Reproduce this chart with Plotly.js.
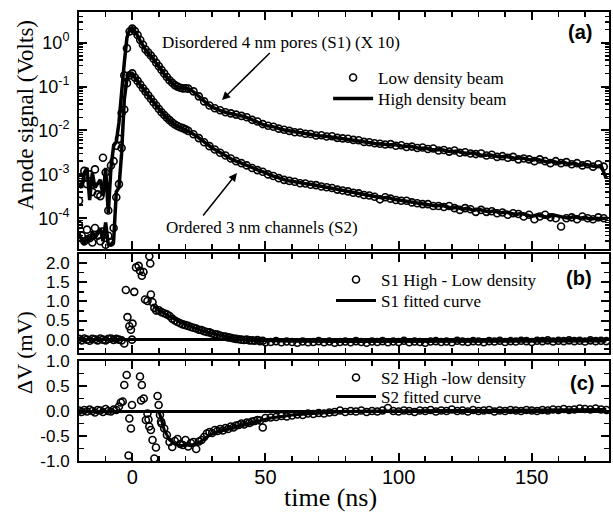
<!DOCTYPE html>
<html>
<head>
<meta charset="utf-8">
<script src="https://cdn.plot.ly/plotly-3.0.1.min.js"></script>
<style>html,body{margin:0;padding:0;background:#fff;}#chart{width:613px;height:514px;}</style>
</head>
<body>
<div id="chart"></div>
<script>
// ---------- Panel (a): anode signal (Volts) ----------
const tA = [-20,-19,-18,-17,-16,-15,-14,-13,-12,-11,-10,-9,-8,-7,-6,-5,-4,-3,-2,-1,0,
  1,2,3,4,5,6,7,8,9,10,11,12,13,14,15,16,17,18,19,20,
  22,24,26,28,30,32,34,36,38,40,42,44,46,48,50,52,54,56,58,60,62,64,66,68,70,
  72,74,76,78,80,82,84,86,88,90,92,94,96,98,100,102,104,106,108,110,112,114,116,118,120,
  122,124,126,128,130,132,134,136,138,140,142,144,146,148,150,152,154,156,158,160,
  162,164,166,168,170,172,174,176,178];
const s1High = [6e-4,5e-4,1.1e-3,1.4e-3,2.6e-4,1.1e-3,5e-4,6e-4,7.5e-4,3.2e-4,1.4e-3,1.3e-4,1.4e-3,4.5e-3,5.5e-3,1.5e-2,8e-2,0.35,1.3,2.0,2.2,
  1.8,1.45,1.1,0.85,0.68,0.58,0.5,0.42,0.34,0.28,0.23,0.19,0.16,0.14,0.12,0.105,0.098,0.093,0.092,0.093,
  0.085,0.068,0.052,0.041,0.034,0.030,0.027,0.025,0.024,0.022,0.021,0.0185,0.0165,0.0148,0.0130,0.0124,0.0118,0.0105,0.0100,0.0095,0.0089,0.0087,0.0082,0.0080,0.0076,
  0.0075,0.0072,0.0071,0.0067,0.0064,0.0063,0.0060,0.0057,0.0056,0.0052,0.0049,0.0050,0.0047,0.0048,0.0046,0.0043,0.0044,0.0041,0.0039,0.0040,0.0037,0.0036,0.0037,0.0034,0.0033,
  0.0034,0.0031,0.0030,0.0031,0.0028,0.0027,0.0028,0.0026,0.0025,0.0026,0.0024,0.0023,0.0024,0.0022,0.0021,0.0022,0.0020,0.0019,0.0020,0.0018,
  0.0019,0.0017,0.0018,0.0016,0.0017,0.0016,0.0015,0.0016,0.0008];
const s2High = [4.5e-5,3.2e-5,2.5e-5,4e-5,3e-5,5e-5,3.5e-5,4.5e-5,6e-5,3e-5,8e-5,2.5e-5,2.5e-5,3e-5,4e-4,5e-4,3e-3,5e-2,0.15,0.19,0.2,
  0.16,0.13,0.11,0.09,0.075,0.062,0.052,0.043,0.036,0.030,0.026,0.022,0.019,0.017,0.0150,0.0135,0.0125,0.0118,0.0112,0.0105,
  0.0090,0.0075,0.0060,0.0048,0.0040,0.0034,0.0029,0.0025,0.0021,0.0019,0.0017,0.0015,0.0013,0.0012,0.0011,0.00095,0.00088,0.00078,0.00072,0.00070,0.00066,0.00062,0.00060,0.00058,0.00055,
  0.00052,0.00050,0.00047,0.00044,0.00042,0.00040,0.00038,0.00035,0.00034,0.00032,0.00031,0.00029,0.00030,0.00027,0.00026,0.00025,0.00024,0.00023,0.00022,0.00021,0.00020,0.00019,0.00020,0.00018,0.00017,
  0.00018,0.00016,0.00017,0.00015,0.00016,0.00015,0.00014,0.00015,0.00013,0.00014,0.00013,0.00012,0.00013,0.00012,0.00011,0.00012,0.00011,0.000105,0.00012,0.00011,
  0.000105,0.0001,0.00011,0.0001,0.000105,0.000095,0.0001,0.000098,0.0001];

const tLow = [-20,-19,-18,-17,-16,-15,-14,-13,-12,-11,-10,-9,-8,-7,-6,-5,-4,-3,-2,-1,0,
  1,2,3,4,5,6,7,8,9,10,11,12,13,14,15,16,17,18,19,20,
  21,23,25,27,29,31,33,35,37,39,41,43,45,47,49,51,53,55,57,59,61,63,65,67,69,
  71,73,75,77,79,81,83,85,87,89,91,93,95,97,99,101,103,105,107,109,111,113,115,117,119,
  121,123,125,127,129,131,133,135,137,139,141,143,145,147,149,151,153,155,157,159,
  161,163,165,167,169,171,173,175,177];
const s1Low = [2.5e-4,8e-4,1.2e-3,6e-4,1.0e-3,4e-4,1.3e-3,3.5e-4,3.2e-4,2.4e-3,1.1e-3,1.5e-4,1.6e-3,2e-3,4.5e-3,6.5e-3,2.5e-2,0.18,0.75,1.8,2.1,
  1.85,1.5,1.15,0.9,0.7,0.6,0.51,0.43,0.35,0.29,0.24,0.2,0.165,0.14,0.122,0.108,0.1,0.094,0.091,0.092,
  0.090,0.078,0.060,0.046,0.037,0.032,0.029,0.026,0.0245,0.023,0.0215,0.020,0.0175,0.016,0.014,0.0128,0.0122,0.0110,0.0104,0.0098,0.0091,0.0090,0.0084,0.0083,0.0077,
  0.0078,0.0073,0.0074,0.0068,0.0066,0.0065,0.0061,0.0060,0.0055,0.0054,0.0051,0.0050,0.0048,0.0049,0.0045,0.0046,0.0042,0.0043,0.0040,0.0041,0.0038,0.0039,0.0035,0.0036,0.0033,
  0.0035,0.0031,0.0032,0.0030,0.0029,0.0030,0.0027,0.0028,0.0025,0.0026,0.0024,0.0025,0.0022,0.0023,0.0022,0.0020,0.0022,0.0020,0.0018,0.0020,
  0.0018,0.0019,0.0017,0.0018,0.0016,0.0017,0.0015,0.0017,0.0015];
const s2Low = [7e-5,4e-5,3e-5,5.5e-5,3.5e-5,2.8e-5,6e-5,4e-5,3e-5,5e-5,2.5e-5,4e-5,2.8e-5,6e-5,3e-4,6e-4,4e-3,3e-2,0.12,0.18,0.2,
  0.16,0.135,0.112,0.092,0.077,0.063,0.053,0.044,0.037,0.031,0.026,0.0225,0.0195,0.0172,0.0152,0.0137,0.0127,0.0119,0.0113,0.0106,
  0.0098,0.0082,0.0067,0.0054,0.0044,0.0037,0.0031,0.0027,0.0023,0.0020,0.0018,0.0016,0.0014,0.00125,0.00115,0.00100,0.00092,0.00082,0.00075,0.00071,0.00068,0.00063,0.00062,0.00058,0.00057,
  0.00053,0.00051,0.00049,0.00045,0.00043,0.00041,0.00038,0.00037,0.00034,0.00033,0.00031,0.00027,0.00030,0.00028,0.00026,0.00025,0.00025,0.00023,0.00022,0.00021,0.00021,0.00019,0.00019,0.00018,0.00019,
  0.00017,0.000155,0.00017,0.00016,0.00014,0.000155,0.00014,0.000145,0.00013,0.000135,0.00012,0.00013,0.000125,0.00011,0.00012,0.000095,0.00011,0.00012,0.000105,0.0001,
  0.000065,0.0001,0.000105,0.000095,0.00011,0.0001,0.000095,0.000105,0.0001];

// ---------- Panel (b): S1 difference (mV) ----------
const tB = [-20,-19,-18,-17,-16,-15,-14,-13,-12,-11,-10,-9,-8,-7,-6,-5,-4,
  -3,-2.4,-1.8,-1.1,-0.5,-0.1,0.1,0.75,1.4,2.4,2.9,3.6,4.2,4.8,5.7,6.4,6.75,7,7.6,8.3,
  9,10,11,12,13,14,15,16,17,18,19,20,21,22,23,24,25,26,27,28,29,30,31,32,33,34,35,36,37,38,39,40,41,42,43,44,45,46,47,48,49,50,
  52,54,56,58,60,62,64,66,68,70,72,74,76,78,80,82,84,86,88,90,92,94,96,98,100,102,104,106,108,110,112,114,
  116,118,120,122,124,126,128,130,132,134,136,138,140,142,144,146,148,150,152,154,156,158,160,162,164,166,168,170,172,174,176,178];
const bDiff = [0.02,-0.02,0.03,0.00,-0.03,0.02,0.01,-0.02,0.03,0.00,-0.02,0.02,0.03,-0.01,0.02,0.00,-0.02,
  -0.10,1.30,0.59,0.35,0.26,0.00,0.42,1.25,1.89,1.93,1.80,1.67,1.77,1.05,1.01,2.18,1.99,1.18,0.98,0.83,
  0.76,0.77,0.72,0.69,0.66,0.62,0.55,0.50,0.46,0.43,0.40,0.38,0.36,0.33,0.31,0.29,0.26,0.25,0.22,0.20,0.19,0.16,0.14,0.13,0.11,0.09,0.08,0.06,0.05,0.03,0.02,0.01,0.00,-0.01,0.00,-0.02,-0.02,-0.03,-0.01,-0.04,-0.03,-0.07,
  -0.06,-0.04,-0.07,-0.05,-0.06,-0.08,-0.05,-0.07,-0.06,-0.04,-0.07,-0.05,-0.08,-0.06,-0.05,-0.07,-0.04,-0.06,-0.08,-0.05,-0.06,-0.04,-0.07,-0.05,-0.06,-0.03,-0.07,-0.05,-0.06,-0.08,-0.05,-0.04,
  -0.06,-0.05,-0.07,-0.03,-0.05,-0.06,-0.04,-0.05,-0.07,-0.04,-0.05,-0.03,-0.06,-0.04,-0.05,-0.03,-0.04,-0.06,-0.03,-0.04,-0.02,-0.05,-0.03,-0.04,-0.02,-0.04,-0.03,-0.05,-0.02,-0.04,-0.03,-0.04];
const tBFit = [8,10,12,14,16,18,20,22,24,26,28,30,32,34,36,38,40,44,48,52,60,80,100,120,140,160,178];
const bFit = [0.88,0.78,0.69,0.61,0.53,0.46,0.40,0.34,0.29,0.24,0.20,0.16,0.13,0.10,0.07,0.05,0.03,0.0,-0.02,-0.03,-0.045,-0.05,-0.05,-0.05,-0.045,-0.04,-0.035];

// ---------- Panel (c): S2 difference (mV) ----------
const tC = [-20,-19,-18,-17,-16,-15,-14,-13,-12,-11,-10,-9,-8,-7,-6,-5,
  -4.3,-3.6,-3.0,-2.1,-1.4,-1.1,-0.5,-0.1,2.9,3.3,3.6,4.3,5.1,5.7,6.1,6.4,7.0,7.6,8.3,8.9,9.5,9.9,10.4,10.8,
  11,12,13,14,15,16,17,18,19,20,21,22,23,24,25,26,27,28,29,30,31,32,33,34,35,36,37,38,39,40,41,42,43,44,45,46,47,48,49,50,
  52,54,56,58,60,62,64,66,68,70,72,74,76,78,80,82,84,86,88,90,92,94,96,98,100,102,104,106,108,110,112,114,
  116,118,120,122,124,126,128,130,132,134,136,138,140,142,144,146,148,150,152,154,156,158,160,162,164,166,168,170,172,174,176,178];
const cDiff = [0.01,-0.02,0.02,-0.01,0.03,0.00,-0.03,0.02,0.01,-0.02,0.04,0.00,-0.01,0.03,0.02,0.09,
  0.17,0.19,0.52,0.72,-0.89,-0.15,-0.35,0.12,0.69,0.21,0.52,0.25,-0.18,-0.05,-0.17,-0.31,-0.38,-0.58,-0.95,-0.73,0.30,0.12,-0.08,-0.21,
  -0.25,-0.35,-0.48,-0.62,-0.72,-0.60,-0.56,-0.66,-0.68,-0.58,-0.71,-0.64,-0.62,-0.76,-0.61,-0.58,-0.52,-0.45,-0.42,-0.44,-0.38,-0.40,-0.36,-0.39,-0.34,-0.36,-0.31,-0.33,-0.29,-0.28,-0.25,-0.27,-0.23,-0.24,-0.21,-0.20,-0.18,-0.19,-0.33,-0.14,
  -0.13,-0.12,-0.10,-0.11,-0.09,-0.07,-0.08,-0.05,-0.06,-0.04,-0.05,-0.03,-0.02,0.01,-0.02,0.00,-0.01,0.01,-0.02,0.00,-0.01,0.01,0.06,0.00,-0.01,0.01,0.00,-0.02,0.01,0.00,0.02,-0.01,
  0.01,0.00,0.03,0.00,0.01,-0.01,0.02,0.00,0.01,0.02,-0.01,0.01,0.00,0.02,0.01,0.00,0.02,0.01,0.00,0.02,0.01,0.03,0.02,0.04,0.02,0.03,0.05,0.04,0.03,0.05,0.03,0.02];
const tCFit = [10,12,14,16,18,20,22,24,26,28,30,33,36,40,44,48,52,56,60,65,70,75,80,90,100,120,150,178];
const cFit = [0.0,-0.38,-0.58,-0.66,-0.69,-0.69,-0.68,-0.66,-0.60,-0.52,-0.46,-0.40,-0.35,-0.30,-0.25,-0.20,-0.14,-0.11,-0.08,-0.06,-0.04,-0.03,-0.01,0.0,0.0,0.01,0.02,0.03];

// ---------- Tick labels ----------
const logTickVals = [1e-4,1e-3,1e-2,1e-1,1];
const logTickText = ['10<sup>-4</sup>','10<sup>-3</sup>','10<sup>-2</sup>','10<sup>-1</sup>','10<sup>0</sup>'];
const bTickVals = [0,0.5,1,1.5,2];
const bTickText = ['0.0','0.5','1.0','1.5','2.0'];
const cTickVals = [-1,-0.5,0,0.5,1];
const cTickText = ['-1.0','-0.5','0.0','0.5','1.0'];

const minorLog = [];
for (let d = -5; d <= 0; d++) for (let k = 2; k <= 9; k++) minorLog.push(k * Math.pow(10, d));

const SERIF = 'Liberation Serif, Times New Roman, serif';
const SANS = 'Liberation Sans, Arial, sans-serif';

const circ = {symbol:'circle-open', size:7, color:'#000', line:{width:1.6, color:'#000'}};

const traces = [
  {x:tA, y:s1High, xaxis:'x', yaxis:'y', mode:'lines', line:{color:'#000', width:3.5}, name:'High density beam', legend:'legend2'},
  {x:tA, y:s2High, xaxis:'x', yaxis:'y', mode:'lines', line:{color:'#000', width:3.5}, showlegend:false},
  {x:tLow, y:s1Low, xaxis:'x', yaxis:'y', mode:'markers', marker:circ, name:'Low density beam', legend:'legend'},
  {x:tLow, y:s2Low, xaxis:'x', yaxis:'y', mode:'markers', marker:circ, showlegend:false},
  {x:tBFit, y:bFit, xaxis:'x2', yaxis:'y2', mode:'lines', line:{color:'#000', width:3}, name:'S1 fitted curve', legend:'legend4'},
  {x:tB, y:bDiff, xaxis:'x2', yaxis:'y2', mode:'markers', marker:circ, name:'S1 High - Low density', legend:'legend3'},
  {x:tCFit, y:cFit, xaxis:'x3', yaxis:'y3', mode:'lines', line:{color:'#000', width:3}, name:'S2 fitted curve', legend:'legend6'},
  {x:tC, y:cDiff, xaxis:'x3', yaxis:'y3', mode:'markers', marker:circ, name:'S2 High -low density', legend:'legend5'}
];

const axBase = {showline:true, linewidth:2, linecolor:'#000', mirror:'ticks', ticks:'inside', ticklen:8, tickwidth:2,
  tickcolor:'#000', showgrid:false, zeroline:false, tickfont:{family:SANS, size:17, color:'#000'}};
const xBase = Object.assign({}, axBase, {range:[-20,179], tickmode:'linear', tick0:0, dtick:50,
  minor:{ticks:'inside', tick0:0, dtick:10, ticklen:5, tickwidth:1.5, tickcolor:'#000'}});

const legBase = {xanchor:'left', yanchor:'middle', bgcolor:'rgba(0,0,0,0)', font:{family:SERIF, size:17, color:'#000'},
  itemwidth:40, tracegroupgap:0};

const layout = {
  width:613, height:514,
  margin:{l:79, r:4, t:12, b:53},
  paper_bgcolor:'#fff', plot_bgcolor:'#fff',
  showlegend:true,
  xaxis: Object.assign({}, xBase, {anchor:'y', showticklabels:false}),
  xaxis2: Object.assign({}, xBase, {anchor:'y2', showticklabels:false}),
  xaxis3: Object.assign({}, xBase, {anchor:'y3', showticklabels:true, ticklabelstandoff:-3, tickfont:{family:SANS, size:20, color:'#000'}}),
  yaxis: Object.assign({}, axBase, {type:'log', domain:[0.4722,1], range:[-4.7,0.7], tickmode:'array',
    tickvals:logTickVals, ticktext:logTickText, ticklabelstandoff:4, tickfont:{family:SANS, size:18, color:'#000'},
    minor:{tickmode:'array', tickvals:minorLog, ticks:'inside', ticklen:4, tickwidth:1.5, tickcolor:'#000'}}),
  yaxis2: Object.assign({}, axBase, {domain:[0.2405,0.461], range:[-0.35,2.24], tickmode:'array',
    tickvals:bTickVals, ticktext:bTickText, ticklabelstandoff:4, zeroline:true, zerolinewidth:3, zerolinecolor:'#000',
    minor:{ticks:'inside', tick0:0, dtick:0.25, ticklen:5, tickwidth:1.5, tickcolor:'#000'}}),
  yaxis3: Object.assign({}, axBase, {domain:[0,0.2227], range:[-1,1], tickmode:'array',
    tickvals:cTickVals, ticktext:cTickText, ticklabelstandoff:4, zeroline:true, zerolinewidth:3, zerolinecolor:'#000',
    minor:{ticks:'inside', tick0:0, dtick:0.25, ticklen:5, tickwidth:1.5, tickcolor:'#000'}}),
  legend:  Object.assign({}, legBase, {x:0.47,   y:0.853}),
  legend2: Object.assign({}, legBase, {x:0.47,   y:0.8062}),
  legend3: Object.assign({}, legBase, {x:0.4755, y:0.4031}),
  legend4: Object.assign({}, legBase, {x:0.4755, y:0.3563}),
  legend5: Object.assign({}, legBase, {x:0.4755, y:0.1849}),
  legend6: Object.assign({}, legBase, {x:0.4755, y:0.1425}),
  annotations:[
    {text:'Anode signal (Volts)', xref:'paper', yref:'paper', x:-0.102, y:0.7706, textangle:-90, showarrow:false,
      font:{family:SERIF, size:23, color:'#000'}, xanchor:'center', yanchor:'middle'},
    {text:'\u0394V (mV)', xref:'paper', yref:'paper', x:-0.102, y:0.2428, textangle:-90, showarrow:false,
      font:{family:SERIF, size:22, color:'#000'}, xanchor:'center', yanchor:'middle'},
    {text:'time (ns)', xref:'paper', yref:'paper', x:0.4736, y:-0.0802, showarrow:false,
      font:{family:SERIF, size:26, color:'#000'}, xanchor:'center', yanchor:'middle'},
    {text:'<b>(a)</b>', xref:'paper', yref:'paper', x:0.945, y:0.9555, showarrow:false,
      font:{family:SANS, size:20, color:'#000'}, xanchor:'center', yanchor:'middle'},
    {text:'<b>(b)</b>', xref:'paper', yref:'paper', x:0.943, y:0.4076, showarrow:false,
      font:{family:SANS, size:20, color:'#000'}, xanchor:'center', yanchor:'middle'},
    {text:'<b>(c)</b>', xref:'paper', yref:'paper', x:0.949, y:0.1737, showarrow:false,
      font:{family:SANS, size:20, color:'#000'}, xanchor:'center', yanchor:'middle'},
    {text:'Disordered 4 nm pores (S1) (X 10)', xref:'paper', yref:'paper', x:0.2698, y:0.804, ax:59, ay:-58,
      axref:'pixel', ayref:'pixel', showarrow:true, arrowhead:2, arrowsize:1.1, arrowwidth:1.5, arrowcolor:'#000',
      font:{family:SERIF, size:17, color:'#000'}},
    {text:'Ordered 3 nm channels (S2)', xref:'paper', yref:'paper', x:0.345, y:0.519, showarrow:false,
      font:{family:SERIF, size:17, color:'#000'}, xanchor:'center', yanchor:'middle'},
    {text:'', xref:'paper', yref:'paper', x:0.298, y:0.6414, ax:-35, ay:44, showarrow:true,
      arrowhead:2, arrowsize:1.1, arrowwidth:1.5, arrowcolor:'#000'}
  ]
};

Plotly.newPlot('chart', traces, layout, {displayModeBar:false, staticPlot:true});
</script>
</body>
</html>
